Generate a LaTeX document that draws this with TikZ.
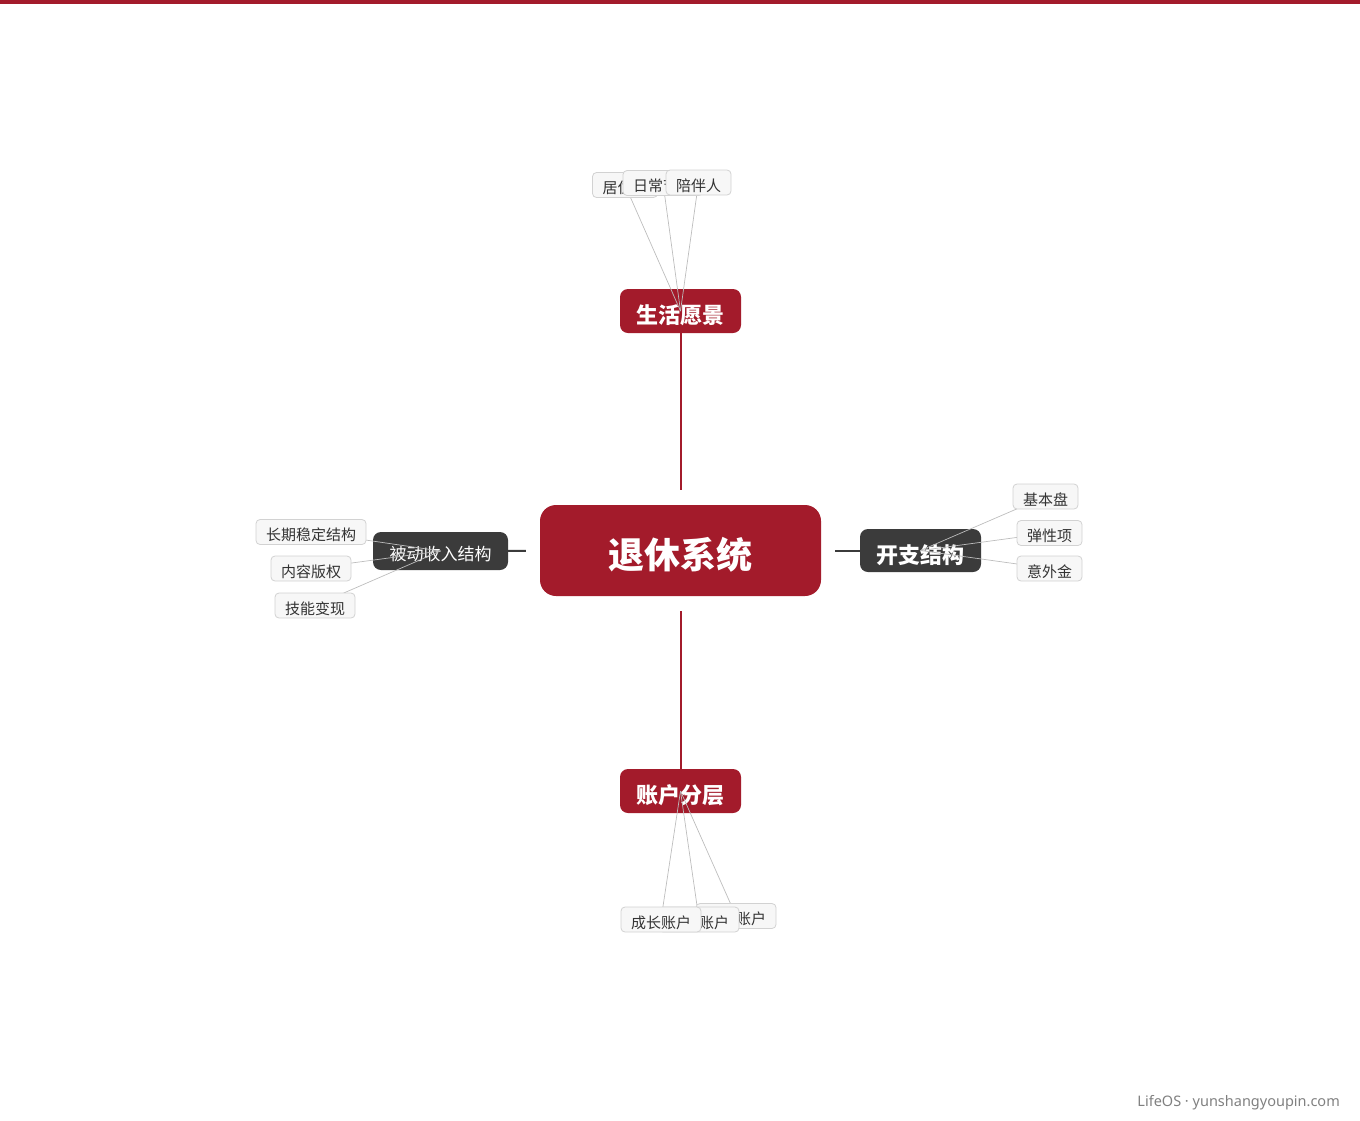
\documentclass[tikz,border=0pt]{standalone}
\usepackage{fontspec}
\setmainfont{Noto Sans CJK SC}
\newfontfamily\footfont{Noto Sans}
\usepackage{tikz}
\usetikzlibrary{positioning}
\usepackage{xcolor}
\definecolor{brandred}{HTML}{A31B2B}
\definecolor{darknode}{HTML}{3B3B3B}
\definecolor{leaffill}{HTML}{F7F7F7}
\definecolor{leafedge}{HTML}{D2D2D2}
\definecolor{twiggray}{HTML}{BDBDBD}
\tikzset{%
	core node/.style={
		rounded corners=16pt,
		fill=brandred,
		text=white,
		minimum width=281pt,
		minimum height=91pt,
		text height=35.6pt,
		text depth=0pt,
		font=\fontsize{36}{40}\selectfont\bfseries
	},
	red branch/.style={
		rounded corners=8pt,
		fill=brandred,
		text=white,
		minimum width=121pt,
		minimum height=44pt,
		text height=24.3pt,
		text depth=0pt,
		font=\fontsize{22}{26}\selectfont\bfseries
	},
	dark branch/.style={
		rounded corners=8pt,
		fill=darknode,
		text=white,
		text depth=0pt,
		minimum height=38pt
	},
	leaf/.style={
		rounded corners=4pt,
		fill=leaffill,
		draw=leafedge,
		line width=0.8pt,
		text=black!80,
		minimum height=25pt,
		text height=17pt,
		text depth=0pt,
		inner xsep=10pt,
		font=\fontsize{15}{17}\selectfont
	},
	twig/.style={draw=twiggray, line width=0.7pt},
	red link/.style={draw=brandred, line width=2pt},
	dark link/.style={draw=darknode, line width=2pt},
}

\begin{document}
\begin{tikzpicture}[x=1pt, y=-1pt]
				\useasboundingbox (0,0) rectangle (1360,1120);
				% Top bar
				\fill[brandred] (0,0) rectangle (1360,4);
				% Core
				\node[core node] (core) at (680.5,550.5) {退休系统};
				% Branches
				\node[red branch] (life) at (680.5,311) {生活愿景};
				\node[red branch] (account) at (680.5,791) {账户分层};
				\node[dark branch, minimum width=135pt, text height=18.6pt,
				font=\fontsize{17}{20}\selectfont] (income) at (440.5,551) {被动收入结构};
				\node[dark branch, minimum width=121pt, minimum height=43pt, text height=25pt,
				font=\fontsize{22}{26}\selectfont\bfseries] (spend) at (920.5,550.5) {开支结构};
				% Connect core to branches
				\draw[red link, shorten <=15pt] (core) -- (life);
				\draw[red link, shorten <=15pt] (core) -- (account);
				\draw[dark link, shorten <=14pt] (core) -- (income);
				\draw[dark link, shorten <=14pt] (core) -- (spend);
				% Leaves of life
				\foreach \i/\txt/\x/\y in {1/居住地/625/185, 2/日常节奏/663/183, 3/陪伴人/698.5/182.5}
				{
					\coordinate (Life-\i) at (\x,\y);
					\draw[twig] (Life-\i) -- (life.center);
				}
				\foreach \i/\txt in {1/居住地, 2/日常节奏, 3/陪伴人}
				{
					\node[leaf] at (Life-\i) {\txt};
				}
				% Leaves of income
				\foreach \i/\txt/\x/\y in {1/长期稳定结构/311/532, 2/内容版权/311/568.5, 3/技能变现/315/605.5}
				{
					\coordinate (Income-\i) at (\x,\y);
					\draw[twig] (Income-\i) -- (income.center);
					\node[leaf] at (Income-\i) {\txt};
				}
				% Leaves of spend
				\foreach \i/\txt/\x/\y in {1/基本盘/1045.5/496.5, 2/弹性项/1049.5/533, 3/意外金/1049.5/568.5}
				{
					\coordinate (Spend-\i) at (\x,\y);
					\draw[twig] (Spend-\i) -- (spend.center);
					\node[leaf] at (Spend-\i) {\txt};
				}
				% Leaves of account
				\foreach \i/\txt/\x/\y in {1/现金账户/736/916, 2/保障账户/699/919.5, 3/成长账户/661/919.5}
				{
					\coordinate (Account-\i) at (\x,\y);
					\draw[twig] (Account-\i) -- (account.center);
				}
				\foreach \i/\txt in {1/现金账户, 2/保障账户, 3/成长账户}
				{
					\node[leaf] at (Account-\i) {\txt};
				}
				% Footer
				\node[anchor=east, inner sep=0pt, text=black!50, font=\footfont\fontsize{14.5}{17}\selectfont]
				(footer) at (1340,1103) {LifeOS · yunshangyoupin.com};
			\end{tikzpicture}
\end{document}
